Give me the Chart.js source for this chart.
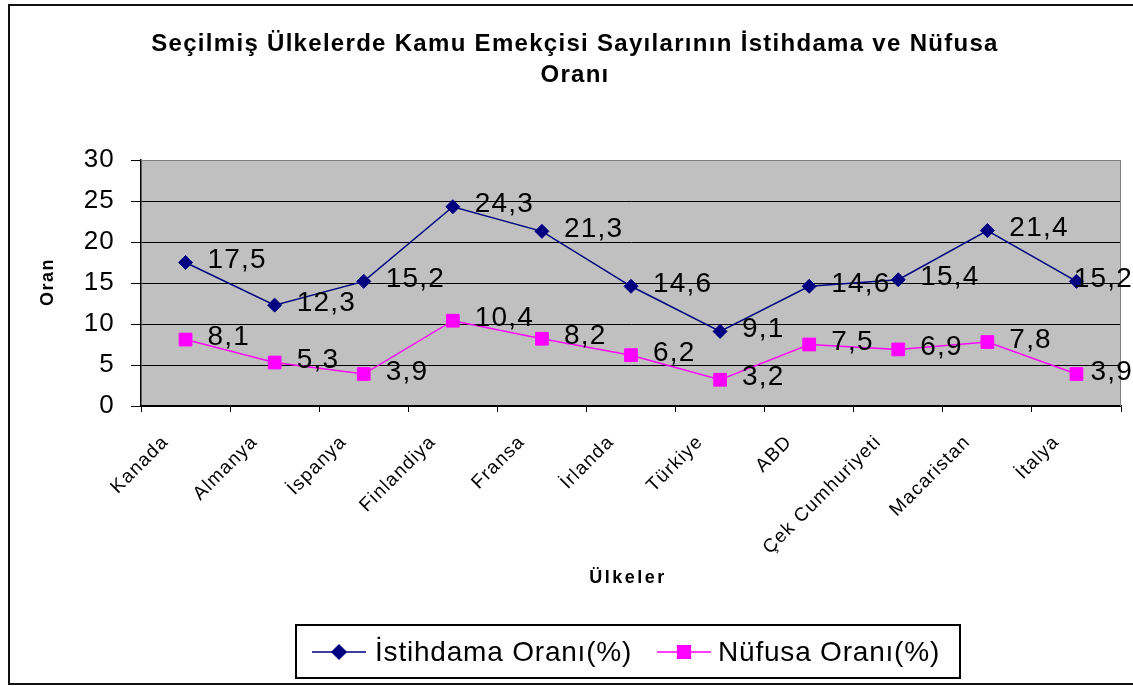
<!DOCTYPE html>
<html>
<head>
<meta charset="utf-8">
<script src="https://cdn.jsdelivr.net/npm/chart.js@4/dist/chart.umd.min.js"></script>
<style>
  html, body { margin: 0; padding: 0; background: #fff; }
  #wrap { width: 1133px; height: 686px; }
</style>
</head>
<body>
<div id="wrap"><canvas id="chart" width="1133" height="686"></canvas></div>
<script>
// ---- Data ----
const countries = ['Kanada', 'Almanya', 'İspanya', 'Finlandiya', 'Fransa', 'İrlanda',
  'Türkiye', 'ABD', 'Çek Cumhuriyeti', 'Macaristan', 'İtalya'];
const istihdama = [17.5, 12.3, 15.2, 24.3, 21.3, 14.6, 9.1, 14.6, 15.4, 21.4, 15.2];
const nufusa = [8.1, 5.3, 3.9, 10.4, 8.2, 6.2, 3.2, 7.5, 6.9, 7.8, 3.9];
const seriesNames = ['İstihdama Oranı(%)', 'Nüfusa Oranı(%)'];
const titleLines = ['Seçilmiş Ülkelerde Kamu Emekçisi Sayılarının İstihdama ve Nüfusa', 'Oranı'];

const FONT = '"Liberation Sans", Arial, sans-serif';
const NAVY = '#000080', PINK = '#FF00FF';

// ---- Plugins: frame, gray plot area, titles, legend, value labels ----
const decor = {
  id: 'decor',
  beforeDraw(chart) {
    const { ctx, chartArea: a } = chart;
    ctx.save();
    ctx.fillStyle = '#fff';
    ctx.fillRect(0, 0, chart.width, chart.height);
    ctx.strokeStyle = '#111';
    ctx.lineWidth = 2;
    ctx.strokeRect(9, 5, 1140, 679);
    ctx.fillStyle = '#C0C0C0';
    ctx.fillRect(a.left, a.top, a.right - a.left, a.bottom - a.top);
    ctx.restore();
    // wider GDI-like text for the axis tick labels
    ctx.letterSpacing = '1.2px';
  },
  beforeDatasetsDraw(chart) {
    const { ctx, chartArea: a } = chart;
    ctx.save();
    ctx.strokeStyle = '#808080';
    ctx.lineWidth = 1;
    ctx.beginPath();
    ctx.moveTo(a.left, a.top + 0.5); ctx.lineTo(a.right - 0.5, a.top + 0.5);
    ctx.lineTo(a.right - 0.5, a.bottom);
    ctx.stroke();
    ctx.restore();
  },
  afterDatasetsDraw(chart) {
    const { ctx } = chart;
    ctx.save();
    ctx.font = `28px ${FONT}`;
    ctx.letterSpacing = '1.2px';
    ctx.fillStyle = '#000';
    ctx.textBaseline = 'middle';
    chart.data.datasets.forEach((ds, i) => {
      chart.getDatasetMeta(i).data.forEach((pt, j) => {
        const txt = String(ds.data[j]).replace('.', ',');
        let x = pt.x + 22;
        const w = ctx.measureText(txt).width;
        if (x + w > 1133) x = 1133 - w;
        ctx.fillText(txt, x, pt.y - 2);
      });
    });

    // titles
    ctx.textAlign = 'center';
    ctx.font = `bold 24px ${FONT}`;
    ctx.letterSpacing = '1.3px';
    ctx.fillText(titleLines[0], 575, 44);
    ctx.fillText(titleLines[1], 575, 75);
    ctx.font = `bold 18px ${FONT}`;
    ctx.letterSpacing = '2.5px';
    ctx.fillText('Ülkeler', 628, 578);
    ctx.translate(48, 282);
    ctx.rotate(-Math.PI / 2);
    ctx.letterSpacing = '1.5px';
    ctx.fillText('Oran', 0, 0);
    ctx.restore();

    // legend
    ctx.save();
    ctx.strokeStyle = '#000';
    ctx.lineWidth = 2;
    ctx.strokeRect(296, 625, 664, 53);
    ctx.font = `28px ${FONT}`;
    ctx.letterSpacing = '0.8px';
    ctx.textBaseline = 'middle';
    const items = [
      { x: 312, color: NAVY, style: 'rectRot', r: 7, tx: 375 },
      { x: 657, color: PINK, style: 'rect', r: 9, tx: 718 },
    ];
    items.forEach((it, i) => {
      ctx.strokeStyle = it.color;
      ctx.lineWidth = 1.5;
      ctx.beginPath(); ctx.moveTo(it.x, 652); ctx.lineTo(it.x + 54, 652); ctx.stroke();
      ctx.fillStyle = it.color;
      Chart.helpers.drawPoint(ctx, { pointStyle: it.style, radius: it.r, borderWidth: 1 }, it.x + 27, 652);
      ctx.fill();
      ctx.fillStyle = '#000';
      ctx.fillText(seriesNames[i], it.tx, 653);
    });
    ctx.restore();
  },
};

new Chart(document.getElementById('chart'), {
  type: 'line',
  data: {
    labels: countries,
    datasets: [
      { label: seriesNames[0], data: istihdama, borderColor: NAVY, backgroundColor: NAVY,
        borderWidth: 1.5, pointStyle: 'rectRot', pointRadius: 7, pointBorderWidth: 1, tension: 0 },
      { label: seriesNames[1], data: nufusa, borderColor: PINK, backgroundColor: PINK,
        borderWidth: 1.5, pointStyle: 'rect', pointRadius: 9, pointBorderWidth: 1, tension: 0 },
    ],
  },
  options: {
    responsive: false,
    animation: false,
    layout: { padding: { top: 160, left: 0, right: 12, bottom: 0 } },
    plugins: { legend: { display: false }, title: { display: false }, tooltip: { enabled: false } },
    scales: {
      x: {
        offset: true,
        afterFit: (s) => { s.height = 280; },
        grid: { offset: true, drawOnChartArea: false, color: '#000', tickLength: 6 },
        border: { color: '#000', width: 1.5 },
        ticks: { autoSkip: false, minRotation: 45, maxRotation: 45, color: '#000',
          font: { family: FONT, size: 19 }, padding: 19, labelOffset: -20 },
      },
      y: {
        min: 0, max: 30,
        afterFit: (s) => { s.width = 141; },
        grid: { color: (c) => (c.tick && c.tick.value === 30 ? '#808080' : '#000'),
          tickColor: '#000', tickLength: 10, lineWidth: 1 },
        border: { color: '#000', width: 1.5 },
        ticks: { stepSize: 5, color: '#000', font: { family: FONT, size: 26 }, padding: 16 },
      },
    },
  },
  plugins: [decor],
});
</script>
</body>
</html>
